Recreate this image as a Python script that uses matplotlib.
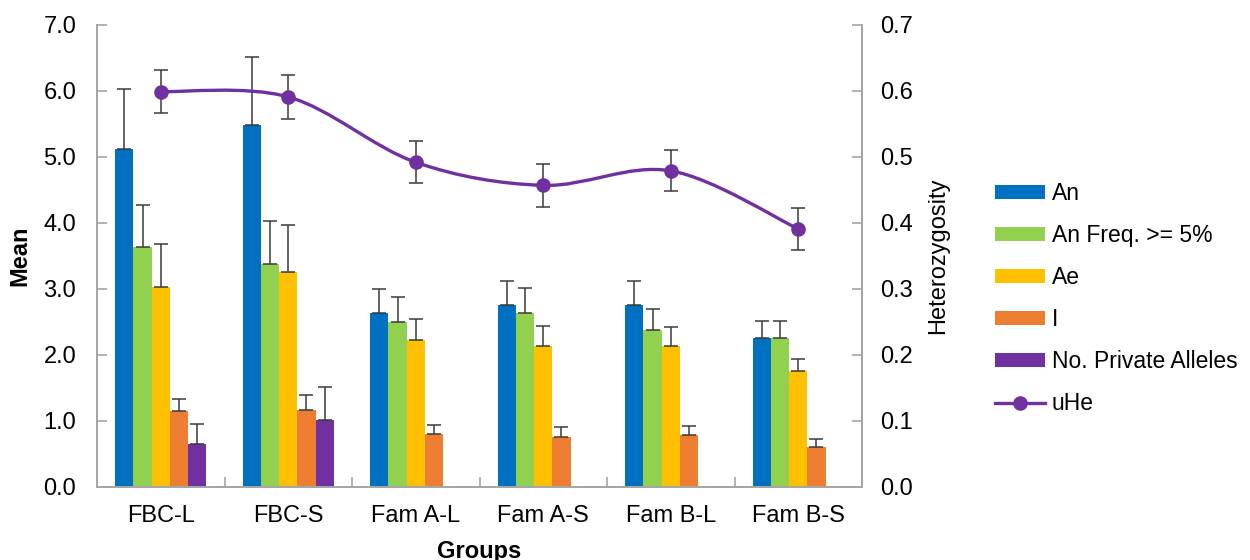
import numpy as np
import matplotlib.pyplot as plt
from matplotlib.path import Path
from matplotlib.patches import PathPatch
from matplotlib.lines import Line2D
from matplotlib.patches import Patch

plt.rcParams['font.family'] = ['Liberation Sans', 'DejaVu Sans']

groups = ['FBC-L', 'FBC-S', 'Fam A-L', 'Fam A-S', 'Fam B-L', 'Fam B-S']
series_names = ['An', 'An Freq. >= 5%', 'Ae', 'I', 'No. Private Alleles']
colors = ['#0070C0', '#92D050', '#FFC000', '#ED7D31', '#7030A0']

an = [5.12, 5.48, 2.63, 2.75, 2.75, 2.26]
an_err = [0.91, 1.03, 0.37, 0.37, 0.37, 0.26]
an5 = [3.63, 3.38, 2.50, 2.64, 2.38, 2.26]
an5_err = [0.64, 0.65, 0.38, 0.37, 0.32, 0.26]
ae = [3.03, 3.25, 2.23, 2.13, 2.14, 1.75]
ae_err = [0.65, 0.72, 0.32, 0.31, 0.29, 0.19]
info = [1.15, 1.17, 0.80, 0.76, 0.78, 0.60]
info_err = [0.19, 0.22, 0.14, 0.15, 0.14, 0.13]
private = [0.65, 1.01, 0, 0, 0, 0]
private_err = [0.31, 0.50, 0, 0, 0, 0]

uhe = [0.599, 0.591, 0.492, 0.457, 0.479, 0.391]
uhe_err = [0.033, 0.033, 0.032, 0.033, 0.031, 0.032]

means = [an, an5, ae, info, private]
errs = [an_err, an5_err, ae_err, info_err, private_err]

gray = '#A6A6A6'
purple = '#7030A0'
err_color = '#3A3A3A'

fig = plt.figure(figsize=(12.5, 5.6), dpi=100)
ax = fig.add_axes([0.0776, 0.1304, 0.612, 0.825])
ax2 = ax.twinx()

x = np.arange(len(groups))
w = 0.143

for j in range(5):
    vals = np.array(means[j])
    e = np.array(errs[j])
    keep = vals > 0
    pos = x[keep] + (j - 2) * w
    ax.bar(pos, vals[keep], width=w, color=colors[j], linewidth=0, zorder=2)
    ax.errorbar(pos, vals[keep], yerr=[np.zeros(keep.sum()), e[keep]],
                fmt='none', ecolor=err_color, elinewidth=1.1, capsize=4.7,
                capthick=1.1, zorder=3)

# smoothed line like Excel (Catmull-Rom as cubic Bezier)
pts = np.column_stack([x, uhe])
n = len(pts)
verts = [pts[0]]
codes = [Path.MOVETO]
for i in range(n - 1):
    p_prev = pts[max(i - 1, 0)]
    p0 = pts[i]
    p1 = pts[i + 1]
    p_next = pts[min(i + 2, n - 1)]
    verts += [p0 + (p1 - p_prev) / 6, p1 - (p_next - p0) / 6, p1]
    codes += [Path.CURVE4] * 3
ax2.add_patch(PathPatch(Path(verts, codes), facecolor='none',
                        edgecolor=purple, linewidth=2.4, zorder=2))
ax2.errorbar(x, uhe, yerr=uhe_err, fmt='none', ecolor=err_color,
             elinewidth=1.1, capsize=5, capthick=1.1, zorder=3)
ax2.plot(x, uhe, 'o', color=purple, markersize=9.5, zorder=4)

ax.set_xlim(-0.5, 5.5)
ax.set_ylim(0, 7)
ax2.set_ylim(0, 0.7)
ax.set_yticks(np.arange(0, 7.1, 1))
ax.set_yticklabels([f'{v:.1f}' for v in np.arange(0, 7.1, 1)])
ax2.set_yticks(np.arange(0, 0.71, 0.1))
ax2.set_yticklabels([f'{v:.1f}' for v in np.arange(0, 0.71, 0.1)])

ax.set_xticks(x)
ax.set_xticklabels(groups)
ax.set_xticks(np.arange(0.5, 5, 1), minor=True)
ax.tick_params(axis='x', which='major', length=0, labelsize=17, pad=13)
ax.tick_params(axis='x', which='minor', direction='in', length=7, color=gray, width=1.2)
ax.tick_params(axis='y', direction='in', length=7, color=gray, width=1.2,
               labelsize=17, pad=15)
ax2.tick_params(axis='y', direction='in', length=7, color=gray, width=1.2,
                labelsize=17, pad=13)

for a in (ax, ax2):
    a.spines['top'].set_visible(False)
    for s in ('left', 'right', 'bottom'):
        a.spines[s].set_color(gray)
        a.spines[s].set_linewidth(1.3)

ax.set_ylabel('Mean', fontsize=17, fontweight='bold', labelpad=8.5)
ax.set_xlabel('Groups', fontsize=17, fontweight='bold', labelpad=9)
ax2.set_ylabel('Heterozygosity', fontsize=17, labelpad=10)

handles = [Patch(facecolor=c, edgecolor='none') for c in colors]
handles.append(Line2D([], [], color=purple, linewidth=2.4, marker='o', markersize=9.5))
fig.legend(handles, series_names + ['uHe'], loc='upper left',
           bbox_to_anchor=(0.796, 0.675), frameon=False, fontsize=16.5,
           handlelength=2.2, handleheight=0.55, handletextpad=0.28,
           labelspacing=0.83, borderpad=0, borderaxespad=0)

fig.savefig('out.png', dpi=100)
